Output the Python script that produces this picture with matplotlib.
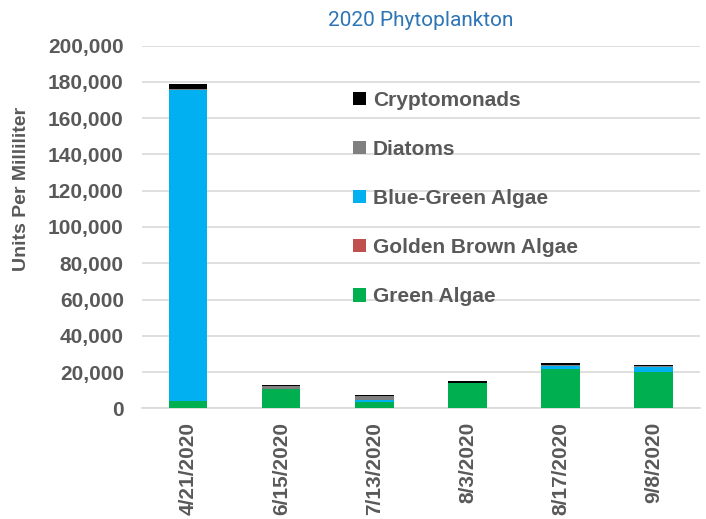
import matplotlib.pyplot as plt
import numpy as np

plt.rcParams['font.family'] = ['Liberation Sans', 'DejaVu Sans']

dates = ['4/21/2020', '6/15/2020', '7/13/2020', '8/3/2020', '8/17/2020', '9/8/2020']

# units per milliliter, stacked bottom to top
green = [3800, 10500, 3500, 13900, 21600, 20000]
golden_brown = [0, 0, 0, 0, 0, 0]
blue_green = [172000, 300, 1300, 0, 2000, 2800]
diatoms = [500, 1700, 2000, 300, 200, 400]
cryptomonads = [2500, 200, 500, 600, 1000, 800]

series = [
    ('Green Algae', green, '#00B050'),
    ('Golden Brown Algae', golden_brown, '#C0504D'),
    ('Blue-Green Algae', blue_green, '#00B0F0'),
    ('Diatoms', diatoms, '#808080'),
    ('Cryptomonads', cryptomonads, '#000000'),
]

fig = plt.figure(figsize=(7.06, 5.19), dpi=100)
ax = fig.add_axes([0.201, 0.2133, 0.7905, 0.6987])

x = np.arange(len(dates))
bottom = np.zeros(len(dates))
handles = []
for name, vals, col in series:
    b = ax.bar(x, vals, 0.41, bottom=bottom, color=col, label=name, zorder=3)
    bottom += np.array(vals)
    handles.append(b)

ax.set_xlim(-0.5, len(dates) - 0.5)
ax.set_ylim(0, 200000)
ax.set_yticks(np.arange(0, 200001, 20000))
ax.yaxis.set_major_formatter(plt.FuncFormatter(lambda v, p: f'{int(v):,}'))
ax.grid(axis='y', color='#D9D9D9', linewidth=1.2, zorder=0)
for s in ['top', 'right', 'left']:
    ax.spines[s].set_visible(False)
ax.spines['bottom'].set_color('#D9D9D9')
ax.spines['bottom'].set_linewidth(1.2)
ax.tick_params(length=0, labelsize=15, labelcolor='#595959')
ax.tick_params(axis='y', pad=13)
ax.tick_params(axis='x', pad=10)
ax.set_xticks(x)
ax.set_xticklabels(dates, rotation=90, fontweight='bold')
for t in ax.get_yticklabels():
    t.set_fontweight('bold')

ax.set_ylabel('Units Per Milliliter', fontsize=14, fontweight='bold', color='#595959')
ax.yaxis.set_label_coords(-0.2, 0.605)

ax.set_title('2020 Phytoplankton', fontsize=15, color='#2E75B6', family='Roboto',
             fontweight='normal', pad=14)

leg = ax.legend(handles[::-1], [s[0] for s in series][::-1], loc='upper left',
                bbox_to_anchor=(0.36, 0.905), frameon=False, fontsize=15,
                handlelength=0.6, handleheight=0.6, handletextpad=0.35,
                labelspacing=1.45, borderpad=0)
for t in leg.get_texts():
    t.set_fontweight('bold')
    t.set_color('#595959')

fig.savefig('out.png', dpi=100)
